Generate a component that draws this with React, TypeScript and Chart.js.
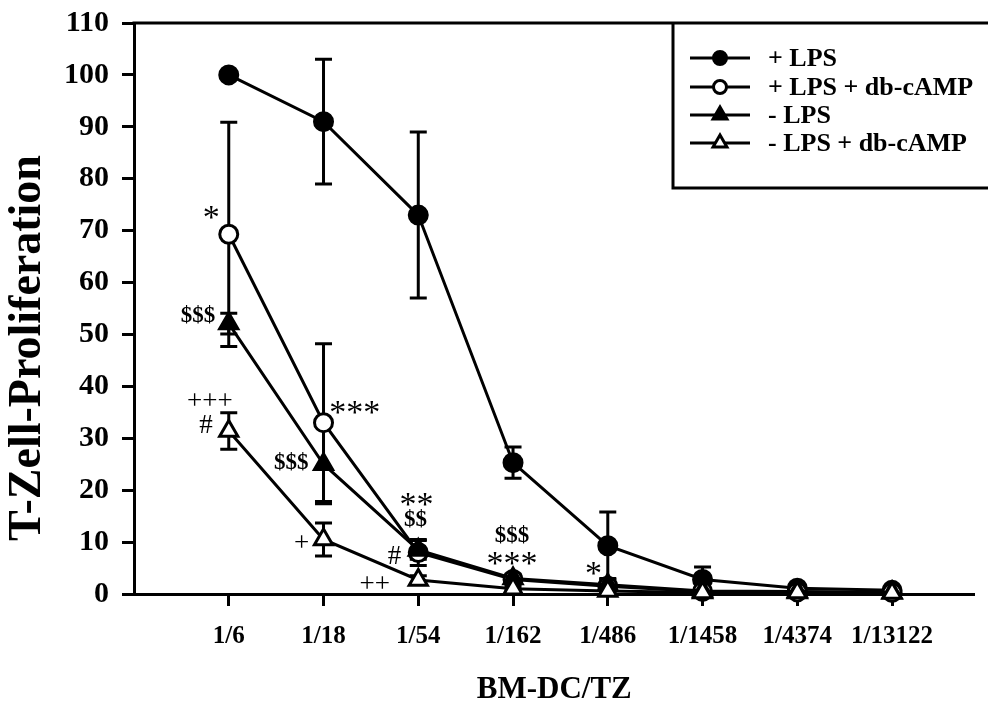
import React, { useEffect, useRef } from 'react';
import { Chart, registerables } from 'chart.js';

Chart.register(...registerables);

const categories = ['1/6', '1/18', '1/54', '1/162', '1/486', '1/1458', '1/4374', '1/13122'];
const categoryPositions = [1, 2, 3, 4, 5, 6, 7, 8];
const yTickValues = [0, 10, 20, 30, 40, 50, 60, 70, 80, 90, 100, 110];

const xTitle = 'BM-DC/TZ';
const yTitle = 'T-Zell-Proliferation';
const seriesNames = ['+ LPS', '+ LPS + db-cAMP', '- LPS', '- LPS + db-cAMP'];

const lpsMean = [100, 91, 73, 25.3, 9.3, 2.8, 1.1, 0.7];
const lpsErr = [0, 12, 16, 3, 6.5, 2.4, 0.4, 0.3];

const lpsCampMean = [69.3, 33, 8.0, 2.8, 1.5, 0.5, 0.4, 0.3];
const lpsCampErr = [21.6, 15.2, 2.5, 0.8, 0.6, 0.2, 0.2, 0.1];

const noLpsMean = [52.1, 25, 8.5, 3.0, 1.8, 0.6, 0.5, 0.3];
const noLpsErr = [2, 7.6, 1.8, 0.8, 1.2, 0.2, 0.2, 0.1];

const noLpsCampMean = [31.4, 10.5, 2.7, 1.0, 0.6, 0.3, 0.3, 0.2];
const noLpsCampErr = [3.5, 3.2, 0.8, 0.3, 0.2, 0.1, 0.1, 0.1];

// significance markers: text, x (category units), y (value units), kind
const annotationTexts = ['*', '$$$', '+++', '#', '***', '$$$', '+', '**', '$$', '#', '++', '$$$', '***', '*'];
const annotationX = [0.815, 0.675, 0.8, 0.76, 2.33, 1.66, 1.77, 2.98, 2.97, 2.75, 2.54, 3.99, 3.99, 4.85];
const annotationY = [71.7, 53.8, 37.4, 32.8, 36.0, 25.5, 10.1, 18.3, 14.6, 7.5, 2.2, 11.4, 6.9, 5.0];
const annotationKinds = ['star', 'dollar', 'plus', 'plus', 'star', 'dollar', 'plus', 'star', 'dollar', 'plus', 'plus', 'dollar', 'star', 'star'];

const SERIF = '"Liberation Serif", "Times New Roman", Times, serif';

const means = [lpsMean, lpsCampMean, noLpsMean, noLpsCampMean];
const errors = [lpsErr, lpsCampErr, noLpsErr, noLpsCampErr];
const pointStyles = ['circle', 'circle', 'triangle', 'triangle'];
const fills = ['#000', '#fff', '#000', '#fff'];
const radii = [9, 9, 10.5, 10.5];

const errorBarPlugin = {
  id: 'errorBars',
  beforeDatasetsDraw(chart: any) {
    const ctx = chart.ctx;
    const ys = chart.scales.y;
    ctx.save();
    ctx.strokeStyle = '#000';
    ctx.lineWidth = 3;
    chart.data.datasets.forEach((ds: any, di: number) => {
      const meta = chart.getDatasetMeta(di);
      meta.data.forEach((pt: any, i: number) => {
        const e = errors[di][i];
        if (!e) return;
        const m = means[di][i];
        const x = pt.x;
        const yT = ys.getPixelForValue(m + e);
        const yB = ys.getPixelForValue(Math.max(0, m - e));
        ctx.beginPath();
        ctx.moveTo(x, yT);
        ctx.lineTo(x, yB);
        ctx.moveTo(x - 8.5, yT);
        ctx.lineTo(x + 8.5, yT);
        ctx.moveTo(x - 8.5, yB);
        ctx.lineTo(x + 8.5, yB);
        ctx.stroke();
      });
    });
    ctx.restore();
  },
};

const framePlugin = {
  id: 'frameAndLegend',
  afterDraw(chart: any) {
    const ctx = chart.ctx;
    const area = chart.chartArea;
    const W = chart.width;
    ctx.save();
    ctx.strokeStyle = '#000';
    ctx.lineWidth = 3;
    // top frame line
    ctx.beginPath();
    ctx.moveTo(area.left - 1.5, area.top);
    ctx.lineTo(W + 5, area.top);
    ctx.stroke();

    // y axis title
    ctx.save();
    ctx.translate(28, 348);
    ctx.rotate(-Math.PI / 2);
    ctx.font = `bold 46px ${SERIF}`;
    ctx.fillStyle = '#000';
    ctx.textAlign = 'center';
    ctx.textBaseline = 'middle';
    ctx.fillText(yTitle, 0, 0);
    ctx.restore();

    // legend box
    const boxLeft = 673;
    const boxBottom = 188;
    ctx.beginPath();
    ctx.moveTo(W + 5, boxBottom);
    ctx.lineTo(boxLeft, boxBottom);
    ctx.lineTo(boxLeft, area.top);
    ctx.stroke();

    const rowY = [58, 87, 115, 143];
    seriesNames.forEach((name, i) => {
      const y = rowY[i];
      ctx.lineWidth = 3;
      ctx.strokeStyle = '#000';
      ctx.beginPath();
      ctx.moveTo(690, y);
      ctx.lineTo(750, y);
      ctx.stroke();
      ctx.fillStyle = fills[i];
      ctx.beginPath();
      if (pointStyles[i] === 'circle') {
        ctx.arc(720, y, 6.5, 0, Math.PI * 2);
      } else {
        const r = 8;
        ctx.moveTo(720, y - r);
        ctx.lineTo(720 + r * 0.866, y + r / 2);
        ctx.lineTo(720 - r * 0.866, y + r / 2);
        ctx.closePath();
      }
      ctx.fill();
      ctx.stroke();
      ctx.fillStyle = '#000';
      ctx.font = `bold 26px ${SERIF}`;
      ctx.textAlign = 'left';
      ctx.textBaseline = 'middle';
      ctx.fillText(name, 768, y + 1);
    });

    // significance annotations
    const xs = chart.scales.x;
    const ys = chart.scales.y;
    annotationTexts.forEach((t, i) => {
      const kind = annotationKinds[i];
      if (kind === 'star') ctx.font = `34px ${SERIF}`;
      else if (kind === 'dollar') ctx.font = `bold 23px ${SERIF}`;
      else ctx.font = `27px ${SERIF}`;
      const cx = xs.getPixelForValue(annotationX[i]);
      const cy = ys.getPixelForValue(annotationY[i]);
      const m = ctx.measureText(t);
      const asc = m.actualBoundingBoxAscent;
      const desc = m.actualBoundingBoxDescent;
      ctx.textAlign = 'center';
      ctx.textBaseline = 'alphabetic';
      ctx.fillStyle = '#000';
      ctx.fillText(t, cx, cy + (asc - desc) / 2);
    });
    ctx.restore();
  },
};

export default function App() {
  const ref = useRef<HTMLCanvasElement | null>(null);
  useEffect(() => {
    document.body.style.margin = '0';
    const canvas = ref.current;
    if (!canvas) return;
    const chart = new Chart(canvas, {
      type: 'line',
      data: {
        datasets: seriesNames.map((name, di) => ({
          label: name,
          data: means[di].map((v, i) => ({ x: categoryPositions[i], y: v })),
          borderColor: '#000',
          borderWidth: 3,
          backgroundColor: fills[di],
          pointBackgroundColor: fills[di],
          pointBorderColor: '#000',
          pointBorderWidth: 3,
          pointStyle: pointStyles[di] as any,
          pointRadius: radii[di],
          pointHoverRadius: radii[di],
          tension: 0,
          fill: false,
          clip: false as any,
          order: seriesNames.length - 1 - di,
        })),
      },
      plugins: [errorBarPlugin, framePlugin],
      options: {
        responsive: false,
        animation: false,
        events: [],
        layout: { padding: { top: 23, right: 0, left: 0, bottom: 0 } },
        plugins: { legend: { display: false }, tooltip: { enabled: false }, title: { display: false } },
        scales: {
          x: {
            type: 'linear',
            min: 0,
            max: 8.87,
            afterFit: (s: any) => { s.height = 111; s.paddingLeft = 0; s.paddingRight = 0; },
            afterBuildTicks: (s: any) => { s.ticks = categoryPositions.map((v) => ({ value: v })); },
            border: { display: true, color: '#000', width: 3 },
            grid: { display: true, drawOnChartArea: false, drawTicks: true, tickLength: 12, tickWidth: 3, tickColor: '#000' },
            ticks: {
              color: '#000',
              font: { family: SERIF, size: 25, weight: 'bold' },
              padding: 16,
              maxRotation: 0,
              autoSkip: false,
              callback: (v: any) => categories[categoryPositions.indexOf(Number(v))] ?? '',
            },
            title: {
              display: true,
              text: xTitle,
              color: '#000',
              font: { family: SERIF, size: 31, weight: 'bold' },
              padding: { top: 0, bottom: -4 },
            },
          },
          y: {
            min: 0,
            max: 110,
            afterFit: (s: any) => { s.width = 134; s.paddingTop = 0; s.paddingBottom = 0; },
            afterBuildTicks: (s: any) => { s.ticks = yTickValues.map((v) => ({ value: v })); },
            border: { display: true, color: '#000', width: 3 },
            grid: { display: true, drawOnChartArea: false, drawTicks: true, tickLength: 12, tickWidth: 3, tickColor: '#000' },
            ticks: {
              color: '#000',
              font: { family: SERIF, size: 30, weight: 'bold' },
              padding: 13,
              autoSkip: false,
            },
          },
        },
      },
    });
    return () => chart.destroy();
  }, []);
  return (
    <div style={{ width: 988, height: 705 }}>
      <canvas ref={ref} width={988} height={705} style={{ display: 'block' }} />
    </div>
  );
}
